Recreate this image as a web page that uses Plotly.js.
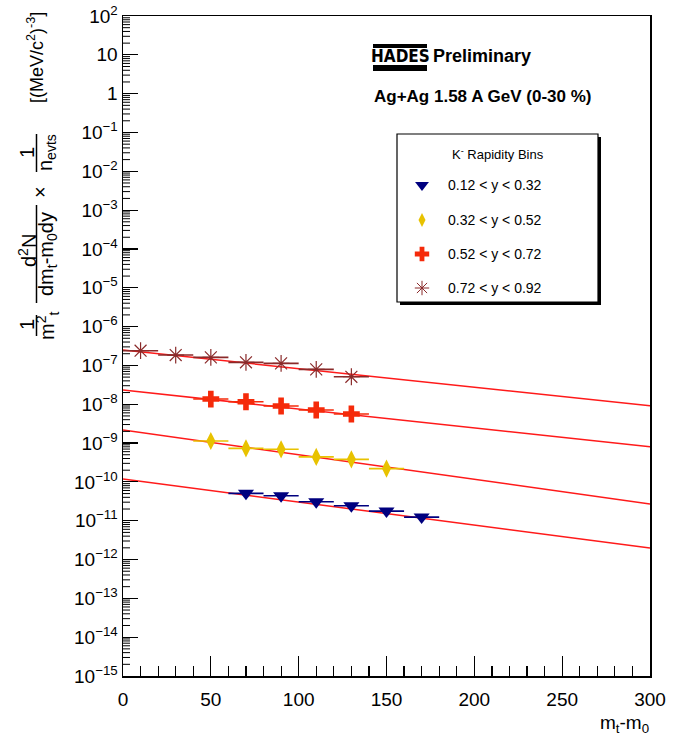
<!DOCTYPE html>
<html>
<head>
<meta charset="utf-8">
<script src="https://cdn.plot.ly/plotly-3.0.1.min.js"></script>
<style>html,body{margin:0;padding:0;background:#fff;}#chart{width:683px;height:746px;}</style>
</head>
<body>
<div id="chart"></div>
<script>
// ---- data ----
const seriesNames = ["0.12 < y < 0.32", "0.32 < y < 0.52", "0.52 < y < 0.72", "0.72 < y < 0.92"];
const binHalfWidth = 10;

const xTri = [70, 90, 110, 130, 150, 170];
const yTri = [5.07e-11, 4.4e-11, 3.08e-11, 2.43e-11, 1.77e-11, 1.24e-11];

const xDia = [50, 70, 90, 110, 130, 150];
const yDia = [1.13e-9, 7.3e-10, 6.9e-10, 4.4e-10, 3.8e-10, 2.2e-10];

const xCro = [50, 70, 90, 110, 130];
const yCro = [1.36e-8, 1.16e-8, 9.0e-9, 7.1e-9, 5.6e-9];

const xAst = [10, 30, 50, 70, 90, 110, 130];
const yAst = [2.39e-7, 1.85e-7, 1.61e-7, 1.20e-7, 1.13e-7, 7.9e-8, 5.1e-8];

// fit lines (read at the plot edges)
const xFit = [0, 300];
const fitTri = [1.18e-10, 1.98e-12];
const fitDia = [2.16e-9, 2.7e-11];
const fitCro = [2.32e-8, 8.0e-10];
const fitAst = [2.49e-7, 9.1e-9];

const yTickVals = [1e2,1e1,1e0,1e-1,1e-2,1e-3,1e-4,1e-5,1e-6,1e-7,1e-8,1e-9,1e-10,1e-11,1e-12,1e-13,1e-14,1e-15];
const yTickText = ["10<sup>2</sup>","10","1","10<sup>−1</sup>","10<sup>−2</sup>","10<sup>−3</sup>","10<sup>−4</sup>","10<sup>−5</sup>","10<sup>−6</sup>","10<sup>−7</sup>","10<sup>−8</sup>","10<sup>−9</sup>","10<sup>−10</sup>","10<sup>−11</sup>","10<sup>−12</sup>","10<sup>−13</sup>","10<sup>−14</sup>","10<sup>−15</sup>"];

// ---- styling ----
const FONT = "Liberation Sans, Arial, Helvetica, sans-serif";
const cTri = "#00007f", cDia = "#e8c200", cCro = "#f52a0a", cAst = "#8a2a2a", cFit = "#ff1a1a";

// geometry helpers (plot area in pixels)
const L = 123, R = 650, T = 16, B = 676;
const LOGMIN = -15, LOGMAX = 2;
function px(x){ return (x - L) / (R - L); }
function py(y){ return (B - y) / (B - T); }

function pts(x, y, sym, size, color, lw, name) {
  return {
    type: "scatter", mode: "markers", x: x, y: y, name: name, showlegend: false,
    marker: {symbol: sym, size: size, color: color, line: {color: color, width: lw}},
    error_x: {type: "constant", value: binHalfWidth, color: color, thickness: 1.6, width: 0}
  };
}
function fit(y) {
  return {type: "scatter", mode: "lines", x: xFit, y: y, showlegend: false,
    line: {color: cFit, width: 1.5}, hoverinfo: "skip"};
}

const legY = [185, 220, 254, 288];
const legSyms = [["triangle-down", 12, cTri, 0], ["diamond-tall", 10, cDia, 0], ["cross", 12, cCro, 0], ["asterisk-open", 12, cAst, 1]];

const traces = [
  fit(fitTri), fit(fitDia), fit(fitCro), fit(fitAst),
  pts(xTri, yTri, "triangle-down", 14, cTri, 0, seriesNames[0]),
  pts(xDia, yDia, "diamond-tall", 13, cDia, 0, seriesNames[1]),
  pts(xCro, yCro, "cross", 14, cCro, 0, seriesNames[2]),
  pts(xAst, yAst, "asterisk-open", 14, cAst, 1.2, seriesNames[3])
];
legSyms.forEach((s, i) => {
  traces.push({type: "scatter", mode: "markers", xaxis: "x2", yaxis: "y2",
    x: [px(422)], y: [py(legY[i])], showlegend: false, hoverinfo: "skip",
    marker: {symbol: s[0], size: s[1], color: s[2], line: {color: s[2], width: s[3]}}});
});

const annotations = [];
function ann(text, x, y, size, opts) {
  annotations.push(Object.assign({text: text, xref: "paper", yref: "paper", x: px(x), y: py(y),
    showarrow: false, font: {family: FONT, size: size, color: "#000"},
    xanchor: "center", yanchor: "middle"}, opts || {}));
}
// y-axis title pieces (rotated)
const rot = {textangle: -90};
const TS = 20;
ann("1", 27, 325, TS, rot);
ann("m<sup>2</sup><sub>t</sub>", 47, 326, TS, rot);
ann("d<sup>2</sup>N", 27, 251, TS, rot);
ann("dm<sub>t</sub>-m<sub>0</sub>dy", 47, 254, TS, rot);
ann("×", 40, 192, TS, rot);
ann("1", 27, 153, TS, rot);
ann("n<sub>evts</sub>", 47, 153, TS, rot);
ann("[(MeV/c<sup>2</sup>)<sup>-3</sup>]", 36, 58, 18, rot);
// x title
ann("m<sub>t</sub>-m<sub>0</sub>", 651, 724, 19, {xanchor: "right"});
// HADES labels
ann("<b>HADES</b>", 400, 56, 17, {font: {family: "Liberation Sans Narrow, DejaVu Sans Condensed, Arial Narrow, " + FONT, size: 17, color: "#000"}});
ann("<b>Preliminary</b>", 431, 56, 18, {xanchor: "left"});
ann("<b>Ag+Ag 1.58 A GeV (0-30 %)</b>", 372, 96, 17, {xanchor: "left"});
// legend texts
ann("K<sup>-</sup> Rapidity Bins", 498, 154, 13);
seriesNames.forEach((n, i) => ann(n, 446, legY[i], 14, {xanchor: "left"}));

function line(x0, y0, x1, y1, w) {
  return {type: "line", xref: "paper", yref: "paper", x0: px(x0), y0: py(y0), x1: px(x1), y1: py(y1),
    line: {color: "#000", width: w}};
}
function rect(x0, y0, x1, y1, fill, lw) {
  return {type: "rect", xref: "paper", yref: "paper", x0: px(x0), y0: py(y0), x1: px(x1), y1: py(y1),
    fillcolor: fill, line: {color: "#000", width: lw}, layer: "below"};
}
const shapes = [
  line(36.5, 315, 36.5, 336, 1.5),
  line(36.5, 205, 36.5, 303, 1.5),
  line(36.5, 134, 36.5, 172, 1.5),
  rect(373, 44, 427, 48, "#000", 0),
  rect(373, 65, 427, 71, "#000", 0),
  rect(400, 137, 601, 305, "#000", 0),
  rect(397, 134, 598, 302, "#fff", 1.2)
];
// minor ticks of the log y axis (2..9 in each decade), drawn inside the frame
for (let e = LOGMIN; e < LOGMAX; e++) {
  for (let m = 2; m <= 9; m++) {
    const f = (e + Math.log10(m) - LOGMIN) / (LOGMAX - LOGMIN);
    shapes.push({type: "line", xref: "paper", yref: "paper", x0: 0, x1: 7 / (R - L), y0: f, y1: f,
      line: {color: "#000", width: 1}});
  }
}

const layout = {
  width: 683, height: 746,
  margin: {l: L, r: 683 - R, t: T, b: 746 - B},
  paper_bgcolor: "#fff", plot_bgcolor: "rgba(0,0,0,0)",
  showlegend: false,
  font: {family: FONT, size: 19, color: "#000"},
  xaxis: {range: [0, 300], showgrid: false, zeroline: false, showline: true, mirror: true,
    linecolor: "#000", linewidth: 1.5, ticks: "inside", ticklen: 20, tickwidth: 1.2, tickcolor: "#000",
    dtick: 50, tick0: 0, ticklabelstandoff: 6, tickfont: {family: FONT, size: 19},
    minor: {ticks: "inside", ticklen: 10, dtick: 10, tickcolor: "#000", tickwidth: 1.2}},
  yaxis: {type: "log", range: [LOGMIN, LOGMAX], showgrid: false, zeroline: false, showline: true, mirror: true,
    linecolor: "#000", linewidth: 1.5, ticks: "inside", ticklen: 15, tickwidth: 1.2, tickcolor: "#000",
    tickmode: "array", tickvals: yTickVals, ticktext: yTickText, tickfont: {family: FONT, size: 19}},
  xaxis2: {overlaying: "x", range: [0, 1], visible: false, fixedrange: true},
  yaxis2: {overlaying: "y", range: [0, 1], visible: false, fixedrange: true},
  annotations: annotations,
  shapes: shapes
};

Plotly.newPlot("chart", traces, layout, {displayModeBar: false, staticPlot: true});
</script>
</body>
</html>
